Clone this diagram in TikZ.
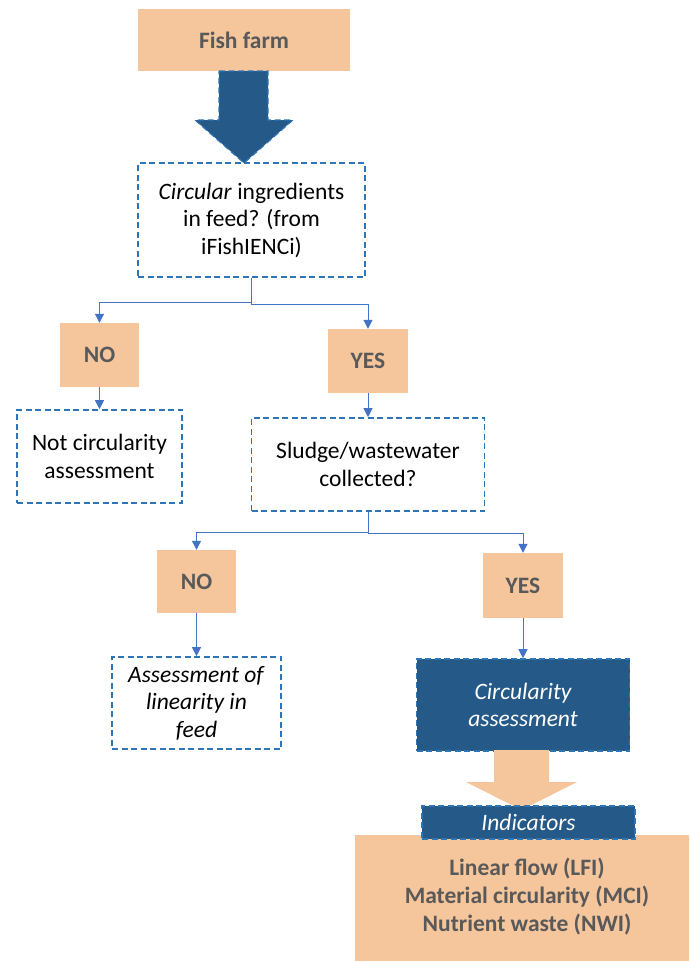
\documentclass[tikz,border=0pt]{standalone}
\usepackage{fontspec}
\setmainfont{Carlito}
\usepackage{xcolor}
\usetikzlibrary{arrows.meta,positioning}
\definecolor{peach}{RGB}{245,197,156}
\definecolor{deepblue}{RGB}{37,90,136}
\definecolor{dashblue}{RGB}{46,117,182}
\definecolor{linkblue}{RGB}{68,114,196}
\definecolor{textgray}{RGB}{89,89,89}
\tikzstyle{link} = [
    line width=1pt,
    draw=linkblue,
    -{Triangle[width=9pt,length=9pt]}
]
\tikzstyle{answer} = [
    rectangle,
    fill=peach,
    inner sep=0pt,
    text=textgray,
    font=\fontsize{23.5}{28}\selectfont\bfseries
]
\tikzstyle{question} = [
    rectangle,
    draw=dashblue,
    line width=1.4pt,
    dash pattern=on 6pt off 3.5pt,
    inner sep=0pt,
    align=center,
    font=\fontsize{23.5}{27.5}\selectfont
]
\tikzstyle{outcome} = [
    question,
    fill=deepblue,
    text=white,
    font=\fontsize{23.5}{27.5}\selectfont\itshape
]

\begin{document}
\begin{tikzpicture}[x=1pt, y=-1pt]
    \useasboundingbox (0,0) rectangle (689,961);
    % top of the tree
    \node[answer, minimum width=212pt, minimum height=62pt] (farm) at (244,40) {Fish farm};
    \node[question, minimum width=227pt, minimum height=114pt] (feed) at (251.5,220)
        {\textit{Circular} ingredients\\in feed? (from\\iFishIENCi)};
    \filldraw[fill=deepblue, draw=dashblue, line width=1.2pt, dash pattern=on 6pt off 3.5pt]
        (219,71) -- (268,71) -- (268,120) -- (293,120) -- (244,163) -- (195,120) -- (219,120) -- cycle;
    % first answer
    \node[answer, minimum width=79pt, minimum height=64pt] (no1) at (99.5,355) {NO};
    \node[answer, minimum width=80pt, minimum height=64pt] (yes1) at (368,361) {YES};
    \node[question, minimum width=165pt, minimum height=93pt, below=22pt of no1] (notcirc)
        {Not circularity\\assessment};
    \node[question, minimum width=233pt, minimum height=93pt, below=24pt of yes1] (sludge)
        {Sludge/wastewater\\collected?};
    \draw[link] (feed.south) -- ++(0,25) -| (no1.north);
    \draw[link] (feed.south) -- ++(0,27) -| (yes1.north);
    \draw[link] (no1) -- (notcirc);
    \draw[link] (yes1) -- (sludge);
    % second answer
    \node[answer, minimum width=79pt, minimum height=63pt] (no2) at (196.5,581.5) {NO};
    \node[answer, minimum width=80pt, minimum height=65pt] (yes2) at (523,585.5) {YES};
    \node[question, minimum width=169pt, minimum height=92pt, below=43pt of no2] (linear)
        {\textit{Assessment of}\\\textit{linearity in}\\\textit{feed}};
    \node[outcome, minimum width=213pt, minimum height=92pt, below=40pt of yes2] (circ)
        {Circularity\\assessment};
    \draw[link] (sludge.south) -- ++(0,21) -| (no2.north);
    \draw[link] (sludge.south) -- ++(0,22) -| (yes2.north);
    \draw[link] (no2) -- (linear);
    \draw[link] (yes2) -- (circ);
    % indicators
    \node[answer, minimum width=334pt, minimum height=126pt] (result) at (522,898)
        {\hspace*{10pt}\begin{tabular}{c}Linear flow (LFI)\\Material circularity (MCI)\\Nutrient waste (NWI)\end{tabular}};
    \fill[peach] (494,750) -- (549,750) -- (549,782) -- (577,782) -- (521.5,810) -- (466,782) -- (494,782) -- cycle;
    \node[outcome, minimum width=213pt, minimum height=33pt] (ind) at (528.5,822.5) {Indicators};
\end{tikzpicture}
\end{document}
